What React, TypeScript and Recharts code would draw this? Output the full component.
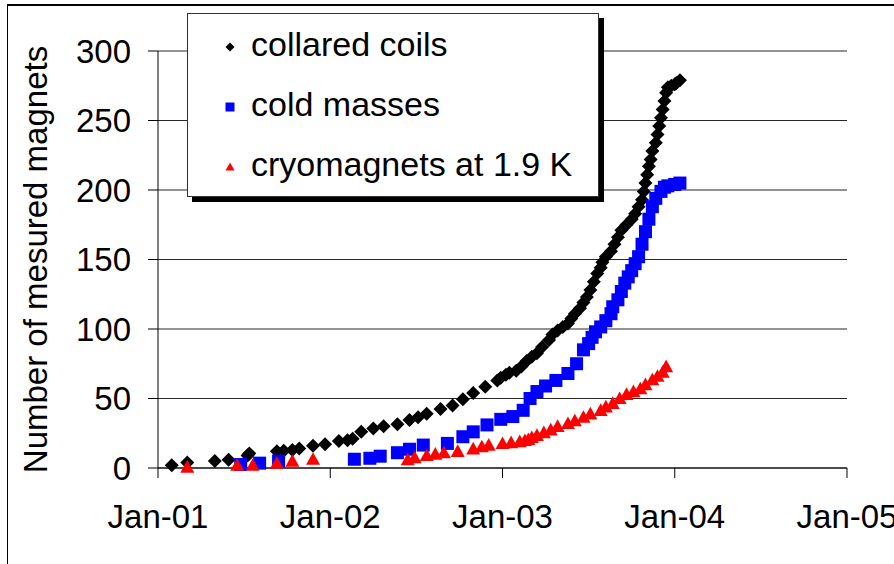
import { CartesianGrid, Scatter, ScatterChart, XAxis, YAxis } from 'recharts';

// x values are decimal years, y values are counts
const yearTicks = [2001, 2002, 2003, 2004, 2005];
const countTicks = [0, 50, 100, 150, 200, 250, 300];

const coilYears = [
  2001.08, 2001.17, 2001.33, 2001.41, 2001.52, 2001.53, 2001.69, 2001.73, 2001.78, 2001.82,
  2001.90, 2001.97, 2002.05, 2002.10, 2002.13, 2002.18, 2002.25, 2002.31, 2002.39, 2002.46,
  2002.51, 2002.56, 2002.64, 2002.71, 2002.77, 2002.83, 2002.90, 2002.97, 2002.99, 2003.02,
  2003.04, 2003.08, 2003.11, 2003.14, 2003.17, 2003.20, 2003.23, 2003.27, 2003.29, 2003.32,
  2003.35, 2003.38, 2003.40, 2003.42, 2003.45, 2003.47, 2003.49, 2003.51, 2003.53, 2003.55,
  2003.57, 2003.58, 2003.60, 2003.63, 2003.65, 2003.67, 2003.69, 2003.72, 2003.75, 2003.77,
  2003.79, 2003.81, 2003.82, 2003.83, 2003.84, 2003.85, 2003.86, 2003.87, 2003.89, 2003.90,
  2003.91, 2003.92, 2003.93, 2003.94, 2003.95, 2003.96, 2003.98, 2004.00, 2004.01, 2004.03,
];
const coilCounts = [
  2, 4, 5, 6, 9, 10.5, 12, 12.5, 13, 14,
  16, 17, 19.5, 20, 21, 26, 28.5, 30, 31.5, 34.5,
  36.5, 39, 42.5, 45, 49.5, 54, 58.5, 63, 65, 67,
  68.5, 70, 73, 77, 80, 82.5, 87, 92, 96, 99,
  101.5, 104, 107.5, 111, 115, 119, 123, 128, 134, 140,
  144, 148, 152, 156, 161, 166, 171, 175, 179, 183,
  188, 193, 199, 205, 211, 217, 222, 228, 234, 240,
  246, 252, 258, 264, 270, 274, 275, 276, 277, 279,
];

const massYears = [
  2001.48, 2001.59, 2001.70, 2002.14, 2002.23, 2002.29, 2002.39, 2002.46, 2002.54, 2002.68,
  2002.77, 2002.83, 2002.91, 2002.99, 2003.06, 2003.12, 2003.16, 2003.20, 2003.25, 2003.31,
  2003.38, 2003.43, 2003.47, 2003.50, 2003.52, 2003.54, 2003.57, 2003.60, 2003.63, 2003.64,
  2003.67, 2003.69, 2003.71, 2003.73, 2003.75, 2003.77, 2003.79, 2003.81, 2003.83, 2003.85,
  2003.87, 2003.89, 2003.92, 2003.94, 2003.96, 2004.00, 2004.03,
];
const massCounts = [
  2.5, 3.5, 5, 6.3, 7, 8.5, 11, 13.5, 16.5, 17.7,
  22.5, 26, 31, 35, 37, 41.5, 50, 55, 59, 63,
  68, 75, 85, 89.5, 94, 98, 101.5, 106, 111, 116,
  121, 127, 133, 137.5, 142, 147, 152, 161, 170, 179,
  188, 194, 199, 202, 203, 204, 205,
];

const cryoYears = [
  2001.17, 2001.46, 2001.55, 2001.69, 2001.78, 2001.90, 2002.45, 2002.49, 2002.56, 2002.61,
  2002.66, 2002.74, 2002.83, 2002.88, 2002.92, 2003.00, 2003.05, 2003.10, 2003.13, 2003.15,
  2003.17, 2003.20, 2003.24, 2003.28, 2003.32, 2003.38, 2003.42, 2003.47, 2003.51, 2003.57,
  2003.60, 2003.64, 2003.68, 2003.72, 2003.76, 2003.80, 2003.83, 2003.87, 2003.90, 2003.93,
  2003.95,
];
const cryoCounts = [
  0.7, 2, 2, 3.4, 5, 6.3, 6, 7.5, 9, 10,
  11, 12, 13.8, 15.3, 16.5, 17.7, 18.3, 19, 19.8, 20.5,
  22, 23.5, 25.5, 27.5, 30, 32, 34, 36.5, 39, 41.5,
  44, 46.5, 50, 53, 55, 57, 60, 63.5, 66, 69,
  73,
];

const seriesNames = ['collared coils', 'cold masses', 'cryomagnets at 1.9 K'];

const toPoints = (xs: number[], ys: number[]) => xs.map((x, i) => ({ x, y: ys[i] }));

const coils = toPoints(coilYears, coilCounts);
const masses = toPoints(massYears, massCounts);
const cryo = toPoints(cryoYears, cryoCounts);

const FONT = '"Liberation Sans", Arial, sans-serif';

const Diamond = ({ cx, cy, r = 7 }: any) => (
  <polygon points={`${cx},${cy - r} ${cx + r},${cy} ${cx},${cy + r} ${cx - r},${cy}`} fill="#000" />
);
const Square = ({ cx, cy, r = 6.5 }: any) => (
  <rect x={cx - r} y={cy - r} width={r * 2} height={r * 2} fill="#0000ff" />
);
const Triangle = ({ cx, cy, r = 7 }: any) => (
  <polygon points={`${cx},${cy - r} ${cx + r},${cy + r * 0.8} ${cx - r},${cy + r * 0.8}`} fill="#ff0000" />
);

function LegendBox() {
  const markers = [Diamond, Square, Triangle];
  return (
    <div
      style={{
        position: 'absolute',
        left: 187,
        top: 13,
        width: 410,
        height: 182,
        background: '#fff',
        border: '1px solid #333',
        boxShadow: '5px 5px 0 #000',
      }}
    >
      <svg width={410} height={182}>
        {seriesNames.map((name, i) => {
          const M = markers[i];
          const base = 42 + i * 60;
          return (
            <g key={name}>
              <M cx={42} cy={base - 9} r={4.5} />
              <text x={63} y={base} fontSize={34} fontFamily={FONT} fill="#000">
                {name}
              </text>
            </g>
          );
        })}
      </svg>
    </div>
  );
}

export default function App() {
  return (
    <div style={{ position: 'absolute', left: 0, top: 0, width: 894, height: 564, background: '#fff', overflow: 'hidden' }}>
      <div
        style={{
          position: 'absolute',
          left: 7,
          top: 4,
          width: 1000,
          height: 1000,
          borderLeft: '1px solid #000',
          borderTop: '2px solid #000',
        }}
      />
      <ScatterChart width={894} height={564} margin={{ top: 51, right: 47, bottom: 36, left: 0 }}>
        <CartesianGrid horizontal vertical={false} stroke="#000" strokeOpacity={0.85} />
        <XAxis
          type="number"
          dataKey="x"
          domain={[2001, 2005]}
          ticks={yearTicks}
          interval={0}
          tickFormatter={(v) => `Jan-${String(v).slice(2)}`}
          height={60}
          tickSize={10}
          tickMargin={27}
          stroke="#000"
          tick={{ fill: '#000', fontSize: 33, fontFamily: FONT }}
        />
        <YAxis
          type="number"
          dataKey="y"
          domain={[0, 300]}
          ticks={countTicks}
          interval={0}
          width={158}
          tickSize={10}
          tickMargin={17}
          stroke="#000"
          tick={{ fill: '#000', fontSize: 33, fontFamily: FONT }}
          label={{
            value: 'Number of mesured magnets',
            angle: -90,
            position: 'insideLeft',
            offset: 35,
            style: { textAnchor: 'middle', fill: '#000', fontSize: 33, fontFamily: FONT },
          }}
        />
        <Scatter name={seriesNames[0]} data={coils} shape={(p: any) => <Diamond cx={p.cx} cy={p.cy} />} isAnimationActive={false} />
        <Scatter name={seriesNames[1]} data={masses} shape={(p: any) => <Square cx={p.cx} cy={p.cy} />} isAnimationActive={false} />
        <Scatter name={seriesNames[2]} data={cryo} shape={(p: any) => <Triangle cx={p.cx} cy={p.cy} />} isAnimationActive={false} />
      </ScatterChart>
      <LegendBox />
    </div>
  );
}
